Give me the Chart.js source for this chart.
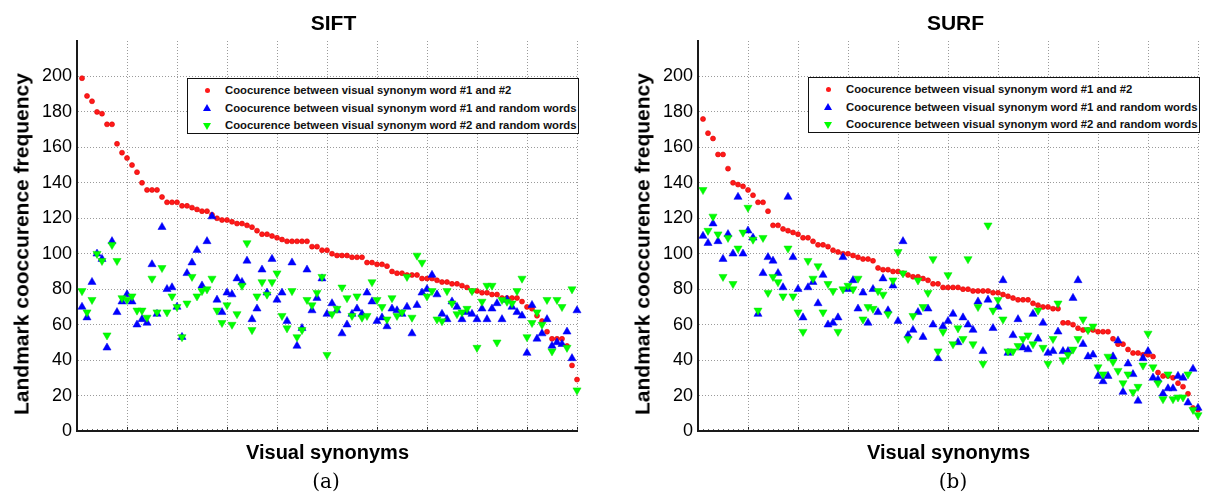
<!DOCTYPE html>
<html>
<head>
<meta charset="utf-8">
<script src="https://cdn.jsdelivr.net/npm/chart.js@4.4.1/dist/chart.umd.min.js"></script>
<style>
html,body{margin:0;padding:0;background:#fff;width:1207px;height:494px;overflow:hidden;}
.panel{position:absolute;top:0;width:600px;height:494px;}
.panel canvas{position:absolute;left:0;top:0;}
.t{position:absolute;font-family:'Liberation Sans',Arial,sans-serif;font-weight:bold;color:#000;white-space:nowrap;line-height:1;}
.title{font-size:21px;top:11.5px;transform:translateX(-50%);}
.xt{font-size:20px;top:442.4px;transform:translateX(-50%);}
.yt{font-size:21px;transform:translate(-50%,-50%) rotate(-90deg);}
.sub{position:absolute;font-family:'DejaVu Serif','Liberation Serif',serif;font-size:20px;line-height:1;top:471px;transform:translateX(-50%);color:#000;white-space:nowrap;}
.legbox{position:absolute;left:187px;width:392px;height:56px;border:1.5px solid #111;box-sizing:border-box;background:#fff;}
.lt{position:absolute;left:225px;font-family:'Liberation Sans',Arial,sans-serif;font-weight:bold;font-size:11.3px;line-height:17px;color:#111;white-space:nowrap;}
.mk{position:absolute;width:0;height:0;}
.dot{position:absolute;width:5px;height:5px;border-radius:50%;background:#ff1a1a;}
.up{border-left:4px solid transparent;border-right:4px solid transparent;border-bottom:7px solid #0000ff;}
.down{border-left:4px solid transparent;border-right:4px solid transparent;border-top:7px solid #00ff00;}
</style>
</head>
<body>
<div class="panel" id="pA" style="left:0px;">
  <canvas id="cA" width="600" height="494"></canvas>
</div>
<div class="panel" id="pB" style="left:621px;">
  <canvas id="cB" width="600" height="494"></canvas>
</div>
<script>
// ---- data ----
const visualSynonymIndex = Array.from({length: 100}, (_, i) => i + 1);
const yTickValues = [0, 20, 40, 60, 80, 100, 120, 140, 160, 180, 200];

const siftPair = [199,189,186,180,179,173,173,162,157,154,150,146,140,136,136,136,132,129,129,129,
127,127,126,125,124,124,122,120,119,119,118,117,117,116,115,113,111,111,110,109,
108,107,107,107,107,107,104,104,102,102,100,99,99,99,98,98,98,95,95,94,
94,93,90,89,89,88,88,88,86,86,86,85,84,84,83,83,82,81,79,79,
78,78,77,77,75,75,75,75,73,70,69,65,62,56,52,52,52,48,37,29];
const siftRandom1 = [70,64,84,100,97,47,107,67,73,77,73,60,63,61,94,66,115,80,81,70,
53,89,95,102,82,107,121,74,67,78,77,86,84,96,63,69,91,78,97,74,
78,62,95,48,58,91,68,75,86,66,72,68,55,60,66,69,66,78,73,62,
64,59,69,68,66,70,55,71,78,80,88,77,66,63,73,70,63,67,66,63,
69,63,69,72,63,74,70,67,65,44,71,52,55,63,48,50,49,56,41,68];
const siftRandom2 = [79,67,74,100,96,54,105,96,75,74,76,68,68,64,86,67,92,67,76,70,
53,72,87,76,79,80,86,68,61,71,60,66,82,106,57,76,84,77,84,89,
65,58,79,53,57,74,71,78,87,43,66,69,81,75,65,76,64,65,84,74,
70,63,75,65,67,87,64,99,95,76,79,63,62,79,72,66,67,69,79,47,
73,82,82,50,74,73,72,79,86,53,61,67,60,74,45,74,70,47,80,23];

const surfPair = [176,168,165,156,156,148,140,139,138,136,133,129,129,124,116,116,114,113,112,111,
109,109,107,105,105,104,102,101,100,100,99,98,97,97,96,92,91,91,90,90,
89,88,87,87,86,85,83,83,81,81,81,81,80,80,79,79,79,79,78,78,
77,76,75,74,74,74,72,71,70,70,69,69,61,61,60,58,57,57,57,56,
56,56,52,49,49,46,44,44,43,43,42,33,31,31,30,27,25,21,13,12];
const surfRandom1 = [110,106,117,107,97,111,100,132,100,113,109,66,89,98,96,89,81,132,98,80,
64,81,84,72,88,60,61,64,98,80,85,69,78,61,80,67,86,68,82,62,
107,54,57,67,53,69,60,41,59,62,66,50,64,60,57,73,45,74,58,70,
85,44,54,63,47,46,66,52,61,44,45,56,45,45,75,85,49,42,43,31,
28,31,42,51,22,38,32,17,41,45,30,29,21,24,24,31,30,16,35,13];
const surfRandom2 = [136,113,121,111,87,109,83,103,112,126,108,68,109,78,87,84,76,103,76,67,
56,96,86,93,67,83,79,56,80,82,80,86,63,70,69,79,77,66,85,101,
89,52,65,85,70,78,97,45,56,88,49,58,52,97,49,70,38,116,68,74,
63,45,45,48,52,54,49,68,47,38,52,72,40,43,46,52,63,57,59,36,
32,42,39,34,27,32,22,25,37,55,36,27,18,32,18,19,19,32,12,9];

const seriesLabels = [
  'Coocurence between visual synonym word #1 and #2',
  'Coocurence between visual synonym word #1 and random words',
  'Coocurence between visual synonym word #2 and random words'
];
const panelTitles = ['SIFT', 'SURF'];
const subLabels = ['(a)', '(b)'];
const xAxisTitle = 'Visual synonyms';
const yAxisTitle = 'Landmark cooccurence frequency';

// ---- overlays (real text) ----
function addOverlay(panelId, idx) {
  const p = document.getElementById(panelId);
  const mk = (cls, txt, style) => {
    const d = document.createElement('div');
    d.className = cls;
    if (txt !== null) d.textContent = txt;
    Object.assign(d.style, style);
    p.appendChild(d);
    return d;
  };
  mk('t title', panelTitles[idx], {left: (333.5 + idx) + 'px'});
  mk('t xt', xAxisTitle, {left: '327.5px'});
  mk('t yt', yAxisTitle, {left: '21.4px', top: '243.5px'});
  mk('sub', subLabels[idx], {left: (326 + idx * 6) + 'px'});
  mk('legbox', null, {top: (78 - idx) + 'px'});
  const centers = [90.5, 108, 125.5].map(c => c - idx);
  centers.forEach((c, k) => {
    mk('lt', seriesLabels[k], {top: (c - 8.4) + 'px'});
  });
  mk('dot', null, {left: (207 - 2.5) + 'px', top: (centers[0] - 2.5) + 'px'});
  mk('mk up', null, {left: (207 - 4) + 'px', top: (centers[1] - 4) + 'px'});
  mk('mk down', null, {left: (207 - 4) + 'px', top: (centers[2] - 3) + 'px'});
}

// ---- charts ----
Chart.defaults.font.family = "'Liberation Sans', Arial, sans-serif";
Chart.defaults.color = '#000';

function makeChart(canvasId, pair, rand1, rand2) {
  const pts = arr => arr.map((v, i) => ({x: visualSynonymIndex[i], y: v}));
  return new Chart(document.getElementById(canvasId), {
    type: 'scatter',
    data: {
      datasets: [
        {label: seriesLabels[0], data: pts(pair), pointStyle: 'circle', pointRadius: 2.5,
         backgroundColor: '#ff1a1a', borderColor: '#dd0000', borderWidth: 0.6, order: 2, clip: false},
        {label: seriesLabels[1], data: pts(rand1), pointStyle: 'triangle', pointRadius: 4.7,
         backgroundColor: '#0000ff', borderColor: '#0000ee', borderWidth: 0.5, order: 1, clip: false},
        {label: seriesLabels[2], data: pts(rand2), pointStyle: 'triangle', rotation: 180, pointRadius: 4.7,
         backgroundColor: '#00ff00', borderColor: '#00e000', borderWidth: 0.5, order: 0, clip: false}
      ]
    },
    options: {
      responsive: false,
      animation: false,
      events: [],
      layout: {padding: {left: 0, right: 23, top: 41, bottom: 63}},
      plugins: {legend: {display: false}, tooltip: {enabled: false}},
      scales: {
        x: {
          type: 'linear', min: 0, max: 100, position: 'bottom',
          ticks: {display: false, stepSize: 10},
          grid: {color: '#9a9a9a', lineWidth: 1, drawTicks: true, tickLength: -4, tickColor: '#222', tickWidth: 1},
          border: {display: true, color: '#1a1a1a', width: 2, dash: [1, 2]},
          afterFit(s) { s.height = 0; }
        },
        xMinor: {
          type: 'linear', min: 0, max: 100, position: 'bottom',
          ticks: {display: false, stepSize: 1, maxTicksLimit: 200},
          grid: {drawOnChartArea: false, drawTicks: true, tickLength: -2, tickColor: '#666', tickWidth: 1},
          border: {display: false},
          afterFit(s) { s.height = 0; }
        },
        y: {
          type: 'linear', min: 0, max: 220,
          ticks: {stepSize: 20, padding: 5, color: '#000', font: {size: 18}},
          afterBuildTicks(s) { s.ticks = yTickValues.map(v => ({value: v})); },
          grid: {color: '#9a9a9a', lineWidth: 1, drawTicks: false},
          border: {display: true, color: '#1a1a1a', width: 2, dash: [1, 2]},
          afterFit(s) { s.width = 77; }
        }
      }
    }
  });
}

makeChart('cA', siftPair, siftRandom1, siftRandom2);
makeChart('cB', surfPair, surfRandom1, surfRandom2);
addOverlay('pA', 0);
addOverlay('pB', 1);
</script>
</body>
</html>
